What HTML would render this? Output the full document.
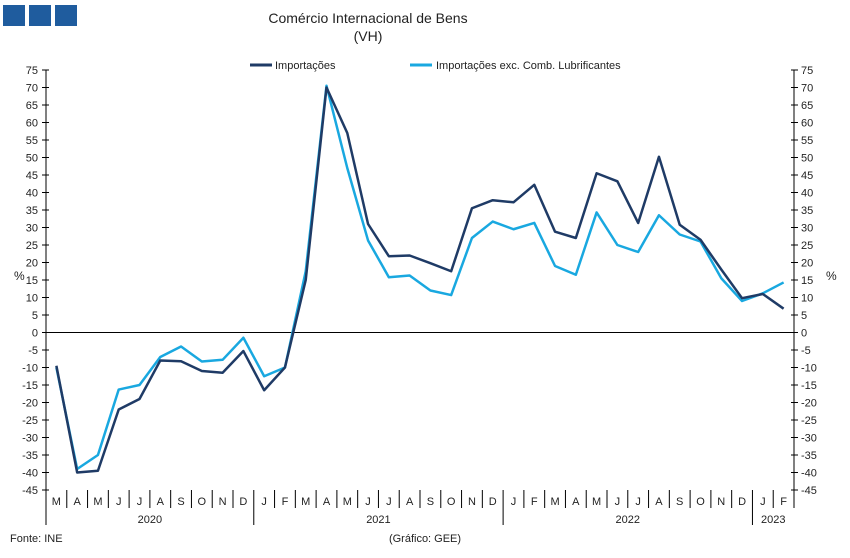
<!DOCTYPE html>
<html><head><meta charset="utf-8"><style>
body{margin:0;background:#fff;font-family:"Liberation Sans",sans-serif}
svg text{font-family:"Liberation Sans",sans-serif}
</style></head><body>
<svg width="850" height="553">
<rect x="3" y="5" width="22" height="21" fill="#1f5c9e"/>
<rect x="29" y="5" width="22" height="21" fill="#1f5c9e"/>
<rect x="55" y="5" width="22" height="21" fill="#1f5c9e"/>
<text x="368" y="23" font-size="14" text-anchor="middle" fill="#222">Comércio Internacional de Bens</text>
<text x="368" y="41" font-size="14" text-anchor="middle" fill="#222">(VH)</text>
<g>
<line x1="250" y1="65" x2="272" y2="65" stroke="#1f3b66" stroke-width="3"/>
<text x="275" y="69" font-size="11" fill="#222">Importações</text>
<line x1="410" y1="65" x2="432" y2="65" stroke="#19a8e0" stroke-width="3"/>
<text x="436" y="69" font-size="11" fill="#222">Importações exc. Comb. Lubrificantes</text>
</g>
<g id="axes"></g>
<g id="series"></g>
<text x="14" y="280" font-size="12" fill="#222">%</text>
<text x="826" y="280" font-size="12" fill="#222">%</text>
<text x="10" y="542" font-size="11" fill="#222">Fonte: INE</text>
<text x="425" y="542" font-size="11" fill="#222" text-anchor="middle">(Gráfico: GEE)</text>
</svg>
<script>
const months=["M","A","M","J","J","A","S","O","N","D","J","F","M","A","M","J","J","A","S","O","N","D","J","F","M","A","M","J","J","A","S","O","N","D","J","F"];
const years=["2020","2021","2022","2023"];
const yearStart=[0,10,22,34];
const yearEnd=[10,22,34,36];
const imports=[-9.5,-40,-39.5,-22,-19,-8,-8.2,-11,-11.5,-5.3,-16.5,-10,15,70,57,31,21.8,22,19.8,17.5,35.5,37.8,37.2,42.2,28.8,27,45.5,43.2,31.3,50.2,30.8,26.5,18,9.8,11,6.8];
const importsExc=[-10,-39,-35,-16.3,-15,-7,-4,-8.3,-7.8,-1.5,-12.5,-10,17.5,70.5,47,26.3,15.8,16.3,12,10.7,27,31.7,29.5,31.3,19,16.5,34.3,25,23,33.5,28,26,15.5,9,11.2,14.3];
const yTicks=[75,70,65,60,55,50,45,40,35,30,25,20,15,10,5,0,-5,-10,-15,-20,-25,-30,-35,-40,-45];
const L=46,R=794,T=70,B=490,ymin=-45,ymax=75;
const bw=(R-L)/months.length;
const y=v=>T+(ymax-v)/(ymax-ymin)*(B-T);
const x=i=>L+bw*(i+0.5);
const NS="http://www.w3.org/2000/svg";
const ax=document.getElementById('axes'),se=document.getElementById('series');
function mk(tag,at,p){const e=document.createElementNS(NS,tag);for(const k in at)e.setAttribute(k,at[k]);p.appendChild(e);return e;}
let e=mk('line',{x1:L,y1:T,x2:L,y2:525,stroke:'#000'},ax);

e=mk('line',{x1:R,y1:T,x2:R,y2:B,stroke:'#000'},ax);

e=mk('line',{x1:L,y1:y(0),x2:R,y2:y(0),stroke:'#000'},ax);

yTicks.forEach(v=>{
 mk('line',{x1:L-4,y1:y(v),x2:L+3,y2:y(v),stroke:'#000'},ax);
 mk('line',{x1:R-3,y1:y(v),x2:R+4,y2:y(v),stroke:'#000'},ax);
 let t=mk('text',{x:L-8,y:y(v)+4,'font-size':11,'text-anchor':'end',fill:'#222'},ax);t.textContent=v;
 
 t=mk('text',{x:R+7,y:y(v)+4,'font-size':11,fill:'#222'},ax);t.textContent=v;
 
});
months.forEach((m,i)=>{
 let t=mk('text',{x:x(i),y:505,'font-size':11,'text-anchor':'middle',fill:'#222'},ax);t.textContent=m;
 
 if(i>0){const isYear=yearStart.includes(i);mk('line',{x1:L+bw*i,y1:B,x2:L+bw*i,y2:isYear?525:508,stroke:'#000'},ax);}
});
mk('line',{x1:R,y1:B,x2:R,y2:508,stroke:'#000'},ax);
years.forEach((yr,k)=>{
 let t=mk('text',{x:L+bw*(yearStart[k]+yearEnd[k])/2,y:523,'font-size':11,'text-anchor':'middle',fill:'#222'},ax);t.textContent=yr;
 
});
function line(d,c,name){
 const p=mk('polyline',{points:d.map((v,i)=>x(i)+','+y(v)).join(' '),fill:'none',stroke:c,'stroke-width':2.5,'stroke-linejoin':'round'},se);
 
}
line(importsExc,'#19a8e0','line-importacoes-exc');
line(imports,'#1f3b66','line-importacoes');
</script>
</body></html>
